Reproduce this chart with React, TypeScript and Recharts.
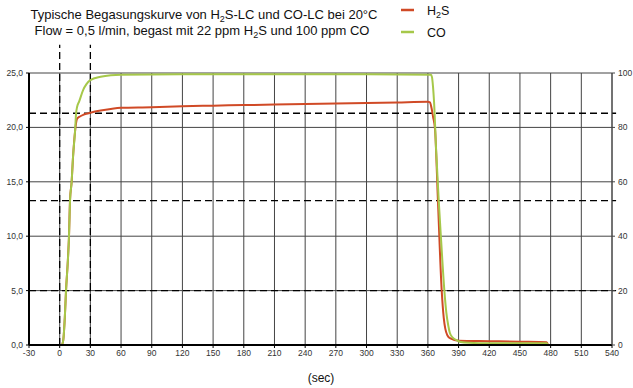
import React from 'react';
import { LineChart, Line, XAxis, YAxis, CartesianGrid, ReferenceLine } from 'recharts';

const xTicks = [-30, 0, 30, 60, 90, 120, 150, 180, 210, 240, 270, 300, 330, 360, 390, 420, 450, 480, 510, 540];
const leftTicks = [0, 5, 10, 15, 20, 25];
const rightTicks = [0, 20, 40, 60, 80, 100];

const h2sTimes = [-15, 0, 2, 3.5, 5, 6.2, 8, 9.1, 10.1, 11.7, 13, 15, 16, 17, 19.8, 23, 26, 30, 40, 50, 60, 90, 120, 150, 180, 210, 240, 270, 300, 330, 360, 362, 363.5, 365, 367, 369.8, 373.5, 375.5, 377, 379, 382, 390, 420, 450, 476, 477.5];
const h2sValues = [0, 0, 0, 0.45, 2.5, 5.0, 7.8, 10, 13.3, 15, 17.2, 19.6, 20.4, 20.8, 21.0, 21.15, 21.25, 21.35, 21.55, 21.7, 21.8, 21.85, 21.95, 22.0, 22.05, 22.1, 22.15, 22.2, 22.25, 22.3, 22.35, 22.3, 21.8, 21.0, 19.8, 13.3, 5.0, 2.5, 1.5, 0.9, 0.6, 0.4, 0.35, 0.3, 0.25, 0];

const coTimes = [-15, 0, 2, 3.5, 5, 6.2, 8, 9.1, 10.1, 11.7, 13, 15, 16, 17, 19, 23, 26, 30, 40, 50, 60, 120, 200, 300, 363, 364, 365, 366, 368, 370.6, 373, 376.1, 378, 380, 381.5, 384, 388, 392, 400, 420, 476, 477.5];
const coValues = [0, 0, 0, 1.8, 10, 20, 31, 40, 53, 60, 69, 78.5, 85, 87.5, 89.5, 93.8, 95.8, 97.4, 98.6, 99.2, 99.4, 99.5, 99.5, 99.5, 99.4, 98.5, 95, 89.5, 72, 53, 38, 20, 12, 7, 4.4, 2.8, 1.8, 1.1, 0.8, 0.6, 0.6, 0];

const h2sData = h2sTimes.map((t, i) => ({ t, v: h2sValues[i] }));
const coData = coTimes.map((t, i) => ({ t, v: coValues[i] }));

const RED = '#d04a26';
const GREEN = '#a6c84a';
const FONT = 'Liberation Sans, Arial, sans-serif';

const fmtLeft = (v: number) => v.toFixed(1).replace('.', ',');

export default function App() {
  return (
    <div style={{ position: 'absolute', left: 0, top: 0, width: 633, height: 388, background: '#fff', fontFamily: FONT }}>
      <LineChart width={633} height={388} margin={{ top: 73, right: 0, left: 0, bottom: 13 }}>
        <CartesianGrid stroke="#444" strokeWidth={1} yAxisId="left" />
        <XAxis
          dataKey="t"
          type="number"
          domain={[-30, 540]}
          ticks={xTicks}
          allowDataOverflow
          height={30}
          tickSize={3}
          tickMargin={2}
          axisLine={{ stroke: '#000', strokeWidth: 2 }}
          tickLine={{ stroke: '#000' }}
          tick={{ fontSize: 8.5, fill: '#333', fontFamily: FONT }}
          interval={0}
        />
        <YAxis
          yAxisId="left"
          orientation="left"
          domain={[0, 25]}
          ticks={leftTicks}
          width={29}
          tickSize={3}
          tickMargin={3}
          tickFormatter={fmtLeft}
          axisLine={{ stroke: '#000', strokeWidth: 2 }}
          tickLine={{ stroke: '#000' }}
          tick={{ fontSize: 8.5, fill: '#333', fontFamily: FONT }}
          allowDataOverflow
          interval={0}
        />
        <YAxis
          yAxisId="right"
          orientation="right"
          domain={[0, 100]}
          ticks={rightTicks}
          width={21}
          tickSize={3}
          tickMargin={3}
          axisLine={{ stroke: '#444', strokeWidth: 1 }}
          tickLine={{ stroke: '#444' }}
          tick={{ fontSize: 8.5, fill: '#333', fontFamily: FONT, textAnchor: 'start' }}
          allowDataOverflow
          interval={0}
        />
        <ReferenceLine yAxisId="left" segment={[{ x: -30, y: 21.3 }, { x: 544, y: 21.3 }]} ifOverflow="visible" stroke="#000" strokeWidth={1.3} strokeDasharray="7 4" />
        <ReferenceLine yAxisId="left" segment={[{ x: -30, y: 13.27 }, { x: 544, y: 13.27 }]} ifOverflow="visible" stroke="#000" strokeWidth={1.3} strokeDasharray="7 4" />
        <ReferenceLine yAxisId="left" segment={[{ x: -30, y: 5 }, { x: 544, y: 5 }]} ifOverflow="visible" stroke="#000" strokeWidth={1.3} strokeDasharray="7 4" />
        <ReferenceLine yAxisId="left" segment={[{ x: 0, y: 0 }, { x: 0, y: 27.6 }]} ifOverflow="visible" stroke="#000" strokeWidth={1.3} strokeDasharray="7 4" />
        <ReferenceLine yAxisId="left" segment={[{ x: 30, y: 0 }, { x: 30, y: 27.6 }]} ifOverflow="visible" stroke="#000" strokeWidth={1.3} strokeDasharray="7 4" />
        <Line yAxisId="left" data={h2sData} dataKey="v" type="monotone" stroke={RED} strokeWidth={2} dot={false} isAnimationActive={false} />
        <Line yAxisId="right" data={coData} dataKey="v" type="monotone" stroke={GREEN} strokeWidth={2} dot={false} isAnimationActive={false} />
      </LineChart>
      <svg width={633} height={388} style={{ position: 'absolute', left: 0, top: 0, pointerEvents: 'none' }}>
        <g fontFamily={FONT} fill="#111">
          <text x={204} y={19} fontSize={13} textAnchor="middle">
            Typische Begasungskurve von H<tspan fontSize={9} dy={3}>2</tspan><tspan dy={-3}>S-LC und CO-LC bei 20°C</tspan>
          </text>
          <text x={202} y={35} fontSize={13} textAnchor="middle">
            Flow = 0,5 l/min, begast mit 22 ppm H<tspan fontSize={9} dy={3}>2</tspan><tspan dy={-3}>S und 100 ppm CO</tspan>
          </text>
          <line x1={401} x2={414} y1={10} y2={10} stroke={RED} strokeWidth={2.5} />
          <line x1={401} x2={414} y1={32} y2={32} stroke={GREEN} strokeWidth={2.5} />
          <text x={427} y={15} fontSize={12.5}>
            H<tspan fontSize={9} dy={3}>2</tspan><tspan dy={-3}>S</tspan>
          </text>
          <text x={427} y={37} fontSize={12.5}>CO</text>
          <text x={321} y={382} fontSize={12} textAnchor="middle">(sec)</text>
        </g>
      </svg>
    </div>
  );
}
